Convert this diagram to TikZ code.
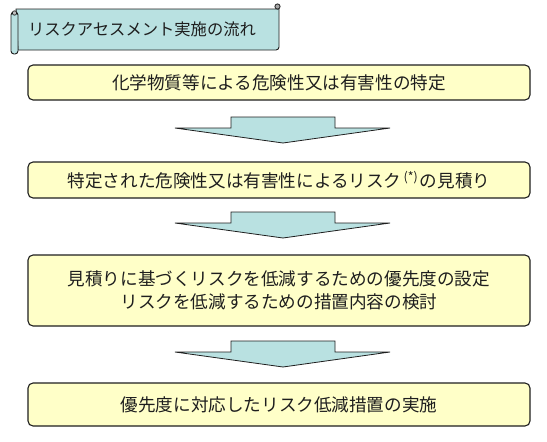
\documentclass[tikz,border=0pt]{standalone}
\usepackage{fontspec}
\usepackage{tikz}
\usepackage{xcolor}
\usetikzlibrary{shapes,arrows,positioning}
\newfontfamily\jp{Noto Sans CJK JP}
\definecolor{boxfill}{HTML}{FFFFC8}
\definecolor{flowcyan}{HTML}{B9E1E1}
\definecolor{inkgray}{HTML}{1E1E1E}

\begin{document}
\begin{tikzpicture}[x=1pt, y=-1pt,
    stepbox/.style={draw=inkgray, line width=1.1pt, fill=boxfill, rounded corners=5pt,
        minimum width=502pt, align=center, font=\jp\fontsize{17.6}{23}\selectfont, text=inkgray},
    flowarrow/.style={draw=inkgray, line width=0.8pt, fill=flowcyan, line join=miter}]
        \useasboundingbox (0,0) rectangle (547,442);

        % Title scroll
        \draw [draw=inkgray, line width=0.9pt, fill=flowcyan]
            (16,9) -- (279,9) -- (279,47) arc (0:90:3) -- (18,50) -- cycle;
        \draw [draw=inkgray, line width=0.8pt, fill=gray!70] (277.5,6.5) circle (2.6);
        \draw [draw=inkgray, line width=0.9pt, fill=flowcyan, rounded corners=3pt]
            (11,12) rectangle (18,54);
        \draw [draw=inkgray, line width=0.7pt, fill=gray!50] (14.5,13) circle (2.2);
        \node [font=\jp\fontsize{16.3}{18}\selectfont, text=inkgray] (title) at (142,29) {リスクアセスメント実施の流れ};

        % Flow steps
        \node [stepbox, minimum height=35pt] (hazard) at (279,82.5) {化学物質等による危険性又は有害性の特定};
        \node [stepbox, minimum height=36pt] (estimate) at (279,180)
            {特定された危険性又は有害性によるリスク\raisebox{6pt}{\fontsize{12.5}{12}\selectfont\,(*)\,}の見積り};
        \node [stepbox, minimum height=71pt] (priority) at (279,290.5)
            {見積りに基づくリスクを低減するための優先度の設定\\リスクを低減するための措置内容の検討};
        \node [stepbox, minimum height=43pt] (measure) at (279,404.5) {優先度に対応したリスク低減措置の実施};

        % Block arrows between steps
        \foreach \top in {117,212,341} {
            \draw [flowarrow] (231,\top) -- (335,\top) -- (335,\top+11) -- (390,\top+11)
                -- (283,\top+26) -- (175,\top+11) -- (231,\top+11) -- cycle;
        }
\end{tikzpicture}
\end{document}
